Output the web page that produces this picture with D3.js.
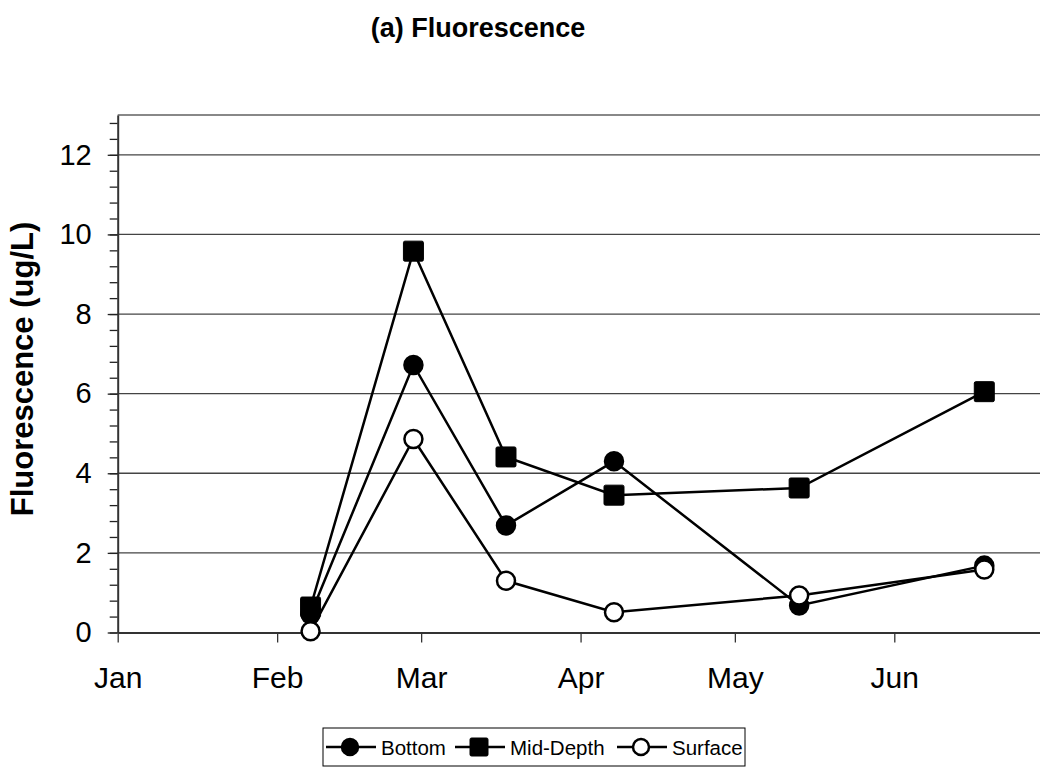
<!DOCTYPE html>
<html>
<head>
<meta charset="utf-8">
<script src="https://cdn.jsdelivr.net/npm/d3@7"></script>
<style>
  body { margin: 0; background: #fff; }
  svg { display: block; font-family: "Liberation Sans", Arial, sans-serif; }
</style>
</head>
<body>
<div class="chart"></div>
<script>
// sample dates (noon) and fluorescence readings (ug/L)
var sampleDates = ["2007-02-07", "2007-02-27", "2007-03-17", "2007-04-07", "2007-05-13", "2007-06-18"];
var bottom = [0.45, 6.72, 2.69, 4.30, 0.68, 1.68];
var midDepth = [0.64, 9.58, 4.41, 3.45, 3.63, 6.05];
var surface = [0.03, 4.86, 1.30, 0.51, 0.93, 1.58];

var monthLabels = ["Jan", "Feb", "Mar", "Apr", "May", "Jun"];
var yTicks = [0, 2, 4, 6, 8, 10, 12];

var svgWidth = 1040, svgHeight = 767;

var svg = d3.select(".chart")
  .append("svg")
  .attr("width", svgWidth)
  .attr("height", svgHeight);

svg.append("rect")
  .attr("width", svgWidth)
  .attr("height", svgHeight)
  .attr("fill", "#fff");

var parse = d3.utcParse("%Y-%m-%d");
var dates = sampleDates.map(function (s) { return d3.utcHour.offset(parse(s), 12); });

// x scale: Jan 1 to Jul 1, plot runs past right edge of picture
var x0 = 117.7, pxPerDay = 5.143;
var xStart = new Date(Date.UTC(2007, 0, 1));
var xEnd = new Date(Date.UTC(2007, 6, 1));
var x = d3.scaleUtc()
  .domain([xStart, xEnd])
  .range([x0, x0 + d3.utcDay.count(xStart, xEnd) * pxPerDay]);

var y = d3.scaleLinear().domain([0, 13]).range([632.5, 115]);

var left = x.range()[0], right = x.range()[1];

// gridlines
svg.append("g")
  .selectAll("line")
  .data(yTicks.filter(function (d) { return d > 0; }))
  .join("line")
  .attr("x1", left)
  .attr("x2", right)
  .attr("y1", function (d) { return y(d); })
  .attr("y2", function (d) { return y(d); })
  .attr("stroke", "#444")
  .attr("stroke-width", 1.3);

// plot area top border
svg.append("line")
  .attr("x1", left).attr("x2", right)
  .attr("y1", y(13)).attr("y2", y(13))
  .attr("stroke", "#888")
  .attr("stroke-width", 2);

// y axis: minor ticks every 0.4
var minorTicks = d3.range(0, 13, 0.4).map(function (d) { return +d.toFixed(1); });
var yMinor = svg.append("g")
  .attr("transform", "translate(" + left + ",0)")
  .call(d3.axisLeft(y).tickValues(minorTicks).tickSize(8).tickFormat(""));
yMinor.select(".domain").remove();
yMinor.selectAll(".tick line").attr("stroke", "#222").attr("stroke-width", 1.3);

var yAxis = svg.append("g")
  .attr("transform", "translate(" + left + ",0)")
  .call(d3.axisLeft(y).tickValues(yTicks).tickSize(10).tickSizeOuter(0).tickPadding(16));
yAxis.select(".domain").attr("stroke", "#333").attr("stroke-width", 2);
yAxis.selectAll(".tick line").attr("stroke", "#222").attr("stroke-width", 1.3);
yAxis.selectAll(".tick text")
  .attr("font-size", 29)
  .attr("font-family", "Liberation Sans, Arial, sans-serif")
  .attr("fill", "#000");

// x axis
var monthTicks = d3.utcMonth.range(xStart, xEnd);
var xAxis = svg.append("g")
  .attr("transform", "translate(0," + y(0) + ")")
  .call(d3.axisBottom(x)
    .tickValues(monthTicks)
    .tickSize(10)
    .tickSizeOuter(0)
    .tickPadding(24)
    .tickFormat(function (d, i) { return monthLabels[i]; }));
xAxis.select(".domain").attr("stroke", "#333").attr("stroke-width", 2);
xAxis.selectAll(".tick line").attr("stroke", "#333").attr("stroke-width", 1.3);
xAxis.selectAll(".tick text")
  .attr("font-size", 30)
  .attr("font-family", "Liberation Sans, Arial, sans-serif")
  .attr("fill", "#000");

// series
var series = [
  { name: "Bottom", values: bottom, shape: "circle", fill: "#000" },
  { name: "Mid-Depth", values: midDepth, shape: "square", fill: "#000" },
  { name: "Surface", values: surface, shape: "circle", fill: "#fff" }
];

var line = d3.line()
  .x(function (d) { return x(d.date); })
  .y(function (d) { return y(d.value); });

function drawMarker(g, shape, fill, size) {
  if (shape === "square") {
    g.append("rect")
      .attr("x", -size / 2).attr("y", -size / 2)
      .attr("width", size).attr("height", size)
      .attr("rx", 1.5)
      .attr("fill", fill)
      .attr("stroke", "#000")
      .attr("stroke-width", 1);
  } else {
    g.append("circle")
      .attr("r", size / 2 - 1)
      .attr("fill", fill)
      .attr("stroke", "#000")
      .attr("stroke-width", 2.5);
  }
}

series.forEach(function (s) {
  var pts = s.values.map(function (v, i) { return { date: dates[i], value: v }; });
  svg.append("path")
    .datum(pts)
    .attr("d", line)
    .attr("fill", "none")
    .attr("stroke", "#000")
    .attr("stroke-width", 2.5);
  s.pts = pts;
});

series.forEach(function (s) {
  svg.append("g")
    .selectAll("g")
    .data(s.pts)
    .join("g")
    .attr("transform", function (d) { return "translate(" + x(d.date) + "," + y(d.value) + ")"; })
    .each(function () { drawMarker(d3.select(this), s.shape, s.fill, 20); });
});

// title
svg.append("text")
  .attr("x", 478)
  .attr("y", 37)
  .attr("text-anchor", "middle")
  .attr("font-size", 27)
  .attr("font-weight", "bold")
  .text("(a) Fluorescence");

// y axis label
svg.append("text")
  .attr("transform", "translate(33,369) rotate(-90)")
  .attr("text-anchor", "middle")
  .attr("font-size", 31)
  .attr("font-weight", "bold")
  .text("Fluorescence (ug/L)");

// legend
var legend = svg.append("g").attr("transform", "translate(323,728)");
legend.append("rect")
  .attr("width", 422)
  .attr("height", 38)
  .attr("fill", "#fff")
  .attr("stroke", "#000")
  .attr("stroke-width", 1);

var legendX = [3, 132, 294];
series.forEach(function (s, i) {
  var item = legend.append("g").attr("transform", "translate(" + legendX[i] + ",19)");
  item.append("line")
    .attr("x1", 0).attr("x2", 50)
    .attr("stroke", "#000").attr("stroke-width", 2.5);
  var m = item.append("g").attr("transform", "translate(24,0)");
  drawMarker(m, s.shape, s.fill, 18);
  item.append("text")
    .attr("x", 55)
    .attr("y", 7.5)
    .attr("font-size", 20.5)
    .text(s.name);
});
</script>
</body>
</html>
